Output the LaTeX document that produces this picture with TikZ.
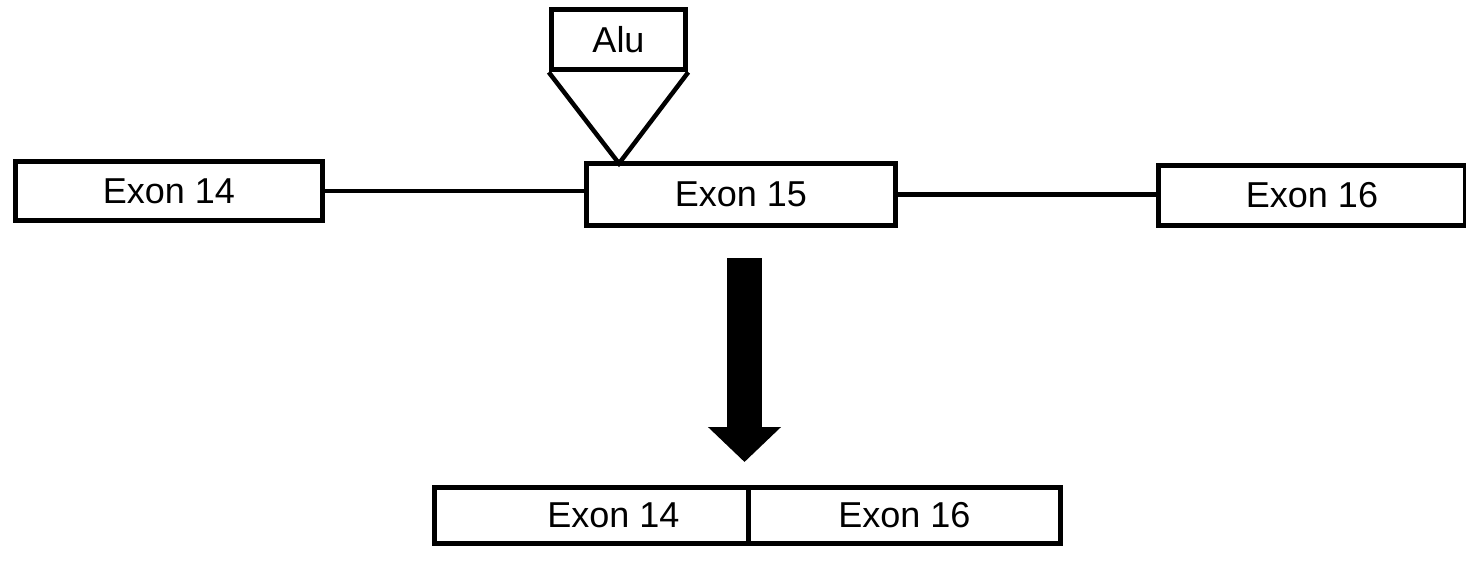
\documentclass[tikz,border=0pt]{standalone}
\usepackage{fontspec}
\setmainfont{Liberation Sans}
\usepackage{tikz}
\usetikzlibrary{
    arrows.meta,
    positioning
}

\begin{document}
\begin{tikzpicture}[
        x=1pt,
        y=-1pt,
        exon/.style={
            rectangle,
            draw,
            line width=5.5pt,
            inner sep=0pt,
            font=\fontsize{36}{42}\selectfont
        },
        intron/.style={
            line width=4.5pt
        }
    ]
    \useasboundingbox (0,0) rectangle (1466,567);

    % gene before splicing
    \node[exon, minimum width=307pt, minimum height=59pt] (E14) at (169,191) {Exon 14};
    \node[exon, minimum width=309pt, minimum height=62pt] (E15) at (741,194.5) {Exon 15};
    \node[exon, minimum width=307pt, minimum height=60pt] (E16) at (1312,195.5) {Exon 16};
    \node[exon, minimum width=134pt, minimum height=60pt] (Alu) at (618.5,39.5) {Alu};
    \coordinate (ins) at (619,163.5);

    \draw[intron] (E14.east) -- (E14.east -| E15.west);
    \draw[intron] (E15.east) -- (E15.east -| E16.west);
    \draw[intron, line join=miter] (Alu.south west) -- (ins) -- (Alu.south east);

    % arrow
    \coordinate (A1) at (744.5,258);
    \coordinate (A2) at (744.5,462);
    \draw[line width=35pt, -{Triangle[width=71pt,length=35pt]}] (A1) -- (A2);

    % spliced product
    \node[exon, minimum width=314pt, minimum height=56pt,
        label={[font=\fontsize{36}{42}\selectfont, xshift=22pt]center:Exon 14}] (M14) at (591.5,515.5) {};
    \node[exon, minimum width=312pt, minimum height=56pt, right=0pt of M14.east, anchor=west,
        xshift=-5.5pt] (M16) {Exon 16};

\end{tikzpicture}
\end{document}
